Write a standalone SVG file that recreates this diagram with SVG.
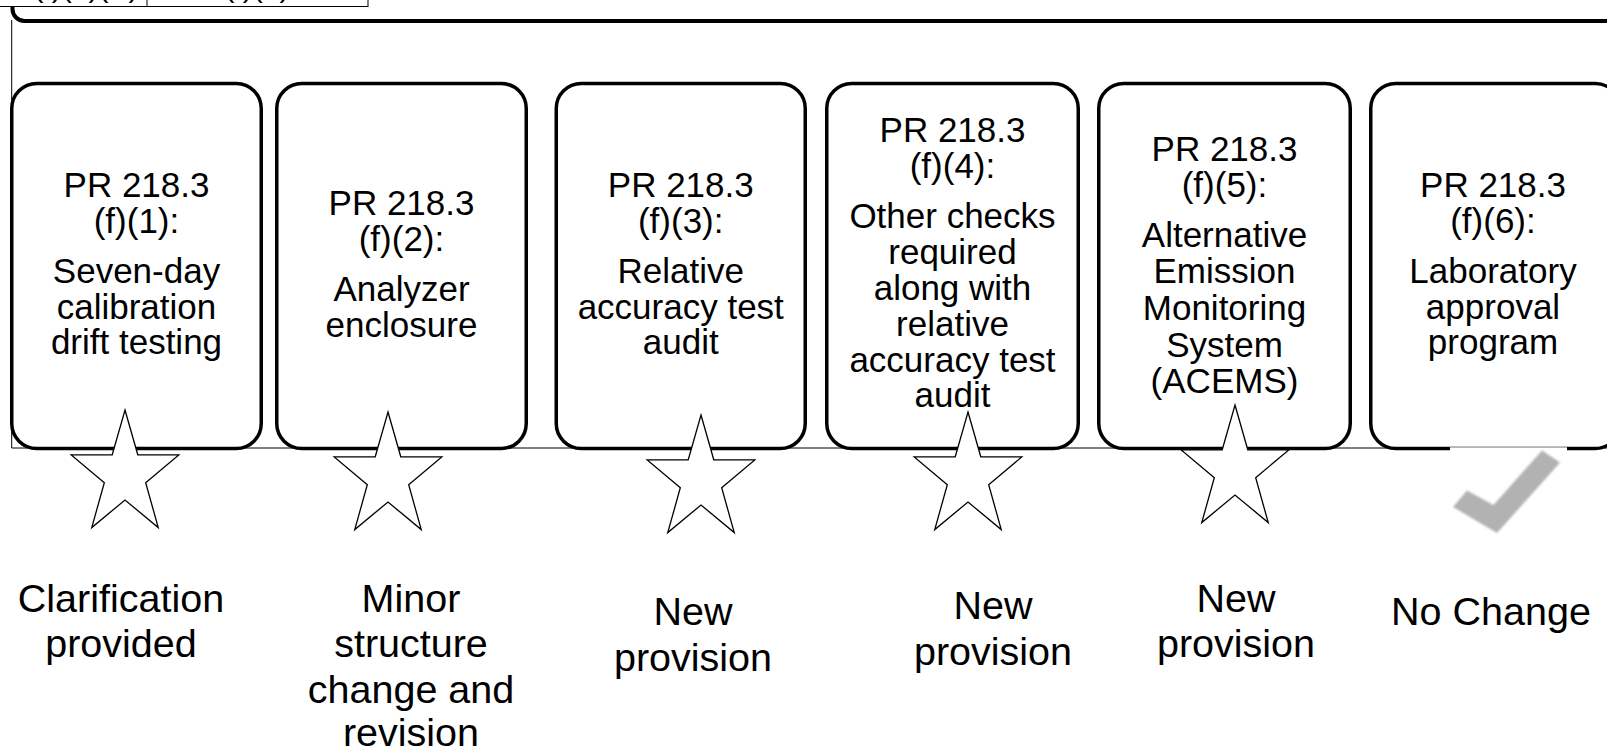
<svg xmlns="http://www.w3.org/2000/svg" width="1607" height="754" viewBox="0 0 1607 754">
<defs>
<style>
.box{fill:#fff;stroke:#000;stroke-width:3.5}
.t{font-family:"Liberation Sans",Arial,sans-serif;font-size:35px;fill:#000;text-anchor:middle}
.lbl{font-family:"Liberation Sans",Arial,sans-serif;font-size:39.5px;fill:#000;text-anchor:middle}
.star{fill:#fff;stroke:#000;stroke-width:1.3;stroke-linejoin:miter}
.thin{fill:none;stroke:#000;stroke-width:1}
</style>
<path id="starShape" d="M0,-65 L12.78,-20.23 L53.78,-20.09 L20.69,7.73 L33.24,52.59 L0,25 L-33.24,52.59 L-20.69,7.73 L-53.78,-20.09 L-12.78,-20.23 Z"/>
<filter id="soft" x="-20%" y="-20%" width="140%" height="140%"><feGaussianBlur stdDeviation="0.9"/></filter>
</defs>
<rect width="1607" height="754" fill="#fff"/>

<g id="connectors">
<path class="thin" d="M11.7,20 V448 H1607"/>
<path d="M12.5,0 V9 A12,12 0 0 0 24.5,21 H1607" fill="none" stroke="#000" stroke-width="4"/>
</g>

<g id="header">
<rect x="-50" y="-40" width="418" height="46.5" fill="#fff" stroke="#000" stroke-width="1"/>
<line x1="147" y1="-40" x2="147" y2="6.5" stroke="#000" stroke-width="1"/>
<text x="86" y="-3" font-family="Liberation Sans, Arial, sans-serif" font-size="30" text-anchor="middle">(f)(1)(A)</text>
<text x="257" y="-3" font-family="Liberation Sans, Arial, sans-serif" font-size="30" text-anchor="middle">(f)(1)</text>
</g>

<g id="box1">
<rect class="box" x="11.75" y="83.5" width="249.5" height="365" rx="25"/>
<text class="t" x="136.5" y="197">PR 218.3</text>
<text class="t" x="136.5" y="232.5">(f)(1):</text>
<text class="t" x="136.5" y="283">Seven-day</text>
<text class="t" x="136.5" y="318.5">calibration</text>
<text class="t" x="136.5" y="354">drift testing</text>
</g>
<g id="box2">
<rect class="box" x="276.75" y="83.5" width="249.5" height="365" rx="25"/>
<text class="t" x="401.5" y="215">PR 218.3</text>
<text class="t" x="401.5" y="250.5">(f)(2):</text>
<text class="t" x="401.5" y="301">Analyzer</text>
<text class="t" x="401.5" y="336.5">enclosure</text>
</g>
<g id="box3">
<rect class="box" x="556.25" y="83.5" width="249" height="365" rx="25"/>
<text class="t" x="680.75" y="197">PR 218.3</text>
<text class="t" x="680.75" y="232.5">(f)(3):</text>
<text class="t" x="680.75" y="283">Relative</text>
<text class="t" x="680.75" y="318.5">accuracy test</text>
<text class="t" x="680.75" y="354">audit</text>
</g>
<g id="box4">
<rect class="box" x="826.75" y="83.5" width="251.5" height="365" rx="25"/>
<text class="t" x="952.5" y="142">PR 218.3</text>
<text class="t" x="952.5" y="177.5">(f)(4):</text>
<text class="t" x="952.5" y="228.3">Other checks</text>
<text class="t" x="952.5" y="264.1">required</text>
<text class="t" x="952.5" y="299.9">along with</text>
<text class="t" x="952.5" y="335.7">relative</text>
<text class="t" x="952.5" y="371.5">accuracy test</text>
<text class="t" x="952.5" y="407.3">audit</text>
</g>
<g id="box5">
<rect class="box" x="1098.75" y="83.5" width="251.5" height="365" rx="25"/>
<text class="t" x="1224.5" y="161">PR 218.3</text>
<text class="t" x="1224.5" y="196.7">(f)(5):</text>
<text class="t" x="1224.5" y="246.7">Alternative</text>
<text class="t" x="1224.5" y="283.3">Emission</text>
<text class="t" x="1224.5" y="320">Monitoring</text>
<text class="t" x="1224.5" y="356.7">System</text>
<text class="t" x="1224.5" y="393.3">(ACEMS)</text>
</g>
<g id="box6">
<rect class="box" x="1370.75" y="83.5" width="249.5" height="365" rx="25"/>
<text class="t" x="1493" y="197">PR 218.3</text>
<text class="t" x="1493" y="232.5">(f)(6):</text>
<text class="t" x="1493" y="283">Laboratory</text>
<text class="t" x="1493" y="318.5">approval</text>
<text class="t" x="1493" y="354">program</text>
</g>

<g id="marks">
<use href="#starShape" class="star" transform="translate(125,475)"/>
<use href="#starShape" class="star" transform="translate(388,477)"/>
<use href="#starShape" class="star" transform="translate(701,480)"/>
<use href="#starShape" class="star" transform="translate(968,477)"/>
<use href="#starShape" class="star" transform="translate(1235,470)"/>
<g id="check">
<rect x="1450" y="447.3" width="117" height="95" fill="#fff"/>
<polygon points="1453,507 1467,490.5 1493.5,505 1542,450.5 1560,462.5 1497,533" fill="#b2b2b2" filter="url(#soft)"/>
<line x1="1477" y1="540" x2="1508" y2="540" stroke="#d4d4d4" stroke-width="2.5" filter="url(#soft)"/>
</g>
</g>

<g id="labels">
<text class="lbl" x="121" y="612">Clarification</text>
<text class="lbl" x="121" y="657">provided</text>
<text class="lbl" x="411" y="612">Minor</text>
<text class="lbl" x="411" y="657">structure</text>
<text class="lbl" x="411" y="703">change and</text>
<text class="lbl" x="411" y="746">revision</text>
<text class="lbl" x="693" y="625">New</text>
<text class="lbl" x="693" y="671">provision</text>
<text class="lbl" x="993" y="619">New</text>
<text class="lbl" x="993" y="665">provision</text>
<text class="lbl" x="1236" y="612">New</text>
<text class="lbl" x="1236" y="657">provision</text>
<text class="lbl" x="1491" y="625">No Change</text>
</g>
</svg>
